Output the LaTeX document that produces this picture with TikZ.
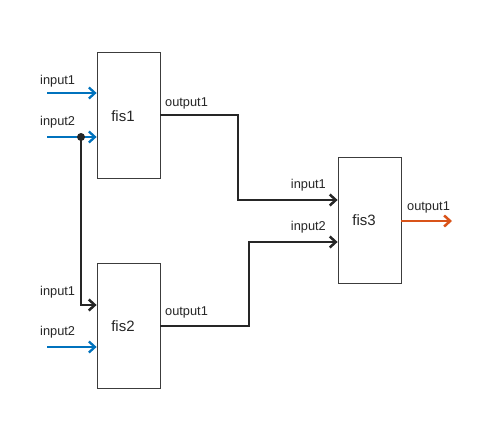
\documentclass[tikz,border=0pt]{standalone}
\usepackage{fontspec}
\setmainfont{Liberation Sans}
\usetikzlibrary{arrows.meta,calc}
\definecolor{mblue}{RGB}{0,114,189}
\definecolor{morange}{RGB}{217,83,25}
\definecolor{mdark}{RGB}{38,38,38}
\definecolor{mgray}{RGB}{60,60,60}
\begin{document}
\begin{tikzpicture}[x=1pt,y=-1pt,
  fisbox/.style={draw=mgray,line width=0.8pt,minimum width=63pt,minimum height=126pt,inner sep=0pt},
  boxlabel/.style={font=\fontsize{15}{15}\selectfont,text=mdark,inner sep=0pt},
  portlabel/.style={font=\fontsize{12.8}{13}\selectfont,text=mdark,inner sep=0pt},
  arr/.style={line width=2.5pt,-{Straight Barb[length=6pt,width=11pt]}},
  inarr/.style={arr,mblue,line width=2.3pt},
  wire/.style={arr,mdark},
  outarr/.style={arr,morange}]
\useasboundingbox (0,0) rectangle (490,440);
\fill[white] (0,0) rectangle (490,440);
% boxes
\node[fisbox] (fis1) at (128.5,115) {};
\node[fisbox,minimum height=125pt] (fis2) at (128.5,325.5) {};
\node[fisbox] (fis3) at (369.5,220) {};
\node[boxlabel] (l1) at (123,116) {fis1};
\node[boxlabel] (l2) at (123,326) {fis2};
\node[boxlabel] (l3) at (364,220) {fis3};
% input start points
\coordinate (a1) at (47,93);
\coordinate (a2) at (47,137);
\coordinate (b2) at (47,347);
% fis1 inputs
\draw[inarr] (a1) -- (fis1.west |- a1);
\draw[inarr] (a2) -- (fis1.west |- a2);
\node[portlabel,anchor=west] (t1) at (40,81) {input1};
\node[portlabel,anchor=west] (t2) at (40,122) {input2};
% junction to fis2 input1
\coordinate (b1) at (81,305);
\draw[wire] (81,137) -- (b1) -- (fis2.west |- b1);
\node[circle,fill=mdark,inner sep=0pt,minimum size=8pt] (dot) at (81,137) {};
% fis2 inputs
\draw[inarr] (b2) -- (fis2.west |- b2);
\node[portlabel,anchor=west] (t3) at (40,292) {input1};
\node[portlabel,anchor=west] (t4) at (40,332) {input2};
% fis1 output to fis3 input1
\coordinate (c1) at (238,115);
\coordinate (c2) at (238,200);
\draw[wire] (fis1.east) -- (c1) -- (c2) -- (fis3.west |- c2);
\node[portlabel,anchor=west] (t5) at (165,103) {output1};
% fis2 output to fis3 input2
\coordinate (d1) at (249,326);
\coordinate (d2) at (249,242);
\draw[wire] (fis2.east |- d1) -- (d1) -- (d2) -- (fis3.west |- d2);
\node[portlabel,anchor=west] (t6) at (165,312) {output1};
\node[portlabel,anchor=east] (t7) at (326,185) {input1};
\node[portlabel,anchor=east] (t8) at (326,227) {input2};
% fis3 output
\coordinate (e1) at (452,221);
\draw[outarr] (fis3.east |- e1) -- (e1);
\node[portlabel,anchor=west] (t9) at (407,207) {output1};
\end{tikzpicture}
\end{document}
